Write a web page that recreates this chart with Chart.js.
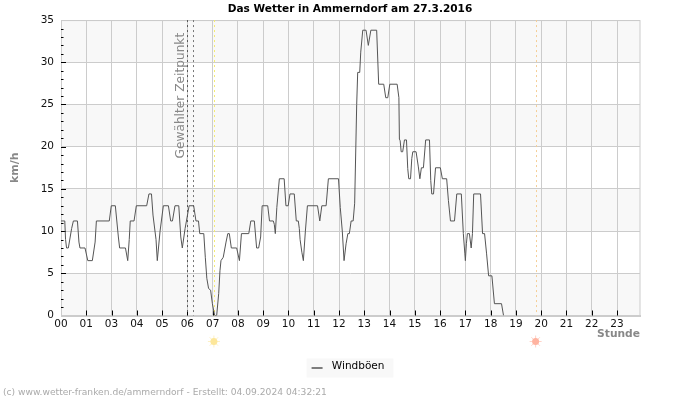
<!DOCTYPE html>
<html>
<head>
<meta charset="utf-8">
<script src="https://cdn.jsdelivr.net/npm/chart.js@4"></script>
<style>
  body { margin: 0; background: #fff; }
</style>
</head>
<body>
<canvas id="wind" width="700" height="400"></canvas>
<script>
// 27.3.2016 is the clock change day, 02 does not exist, so x is elapsed hours
const hourTicks = [0, 1, 2, 3, 4, 5, 6, 7, 8, 9, 10, 11, 12, 13, 14, 15, 16, 17, 18, 19, 20, 21, 22];
const hourLabels = ["00", "01", "03", "04", "05", "06", "07", "08", "09", "10", "11", "12", "13", "14", "15", "16", "17", "18", "19", "20", "21", "22", "23"];

const gustHours = [
  0, 0.15, 0.18, 0.22, 0.29, 0.42, 0.49, 0.65, 0.71, 0.75, 0.95, 1.06, 1.24, 1.35, 1.4, 1.91, 1.99, 2.15, 2.27, 2.32,
  2.55, 2.64, 2.7, 2.74, 2.89, 2.98, 3.39, 3.48, 3.58, 3.64, 3.76, 3.81, 3.92, 4.05, 4.25, 4.34, 4.41, 4.51, 4.66, 4.74,
  4.8, 4.91, 5.07, 5.25, 5.34, 5.44, 5.49, 5.65, 5.71, 5.77, 5.84, 5.92, 5.99, 6.04, 6.08, 6.16, 6.24, 6.29, 6.33, 6.42,
  6.53, 6.6, 6.66, 6.74, 6.95, 7.06, 7.14, 7.43, 7.51, 7.65, 7.74, 7.82, 7.9, 7.96, 8.18, 8.25, 8.4, 8.44, 8.48, 8.54,
  8.64, 8.83, 8.9, 8.99, 9.06, 9.23, 9.31, 9.39, 9.43, 9.46, 9.53, 9.59, 9.67, 9.75, 10.15, 10.24, 10.32, 10.49, 10.58, 10.98,
  11.05, 11.13, 11.2, 11.28, 11.35, 11.41, 11.48, 11.56, 11.62, 11.7, 11.74, 11.82, 11.86, 11.94, 12.07, 12.16, 12.26, 12.49, 12.57, 12.77,
  12.85, 12.93, 13.01, 13.3, 13.37, 13.39, 13.42, 13.46, 13.52, 13.59, 13.67, 13.72, 13.76, 13.83, 13.88, 13.92, 14.05, 14.14, 14.2, 14.26,
  14.34, 14.43, 14.58, 14.63, 14.67, 14.74, 14.82, 15.01, 15.09, 15.26, 15.33, 15.41, 15.57, 15.66, 15.84, 15.92, 15.98, 16, 16.04, 16.08,
  16.16, 16.23, 16.28, 16.33, 16.6, 16.68, 16.76, 16.84, 16.92, 17.05, 17.15, 17.43, 17.51
];
const gustValues = [
  11.2, 11.2, 9, 8, 8, 10.3, 11.2, 11.2, 8.7, 8, 8, 6.5, 6.5, 8.7, 11.2, 11.2, 13, 13, 9.3, 8,
  8, 6.5, 9, 11.2, 11.2, 13, 13, 14.4, 14.4, 11.9, 9, 6.5, 10, 13, 13, 11.2, 11.2, 13, 13, 9.3,
  8, 10.3, 13, 13, 11.2, 11.2, 9.7, 9.7, 6.9, 4.4, 3.2, 3, 1.4, 0.6, 0, 0, 2.6, 5.3, 6.5, 6.9,
  8.7, 9.7, 9.7, 8, 8, 6.5, 9.7, 9.7, 11.2, 11.2, 8, 8, 9.3, 13, 13, 11.2, 11.2, 10.8, 9.7, 12.8,
  16.2, 16.2, 13, 13, 14.4, 14.4, 11.2, 11.2, 10.3, 9, 7.5, 6.5, 10, 13, 13, 11.2, 13, 13, 16.2, 16.2,
  12.8, 10, 6.5, 8.5, 9.7, 9.7, 11.2, 11.2, 13.3, 25, 28.8, 28.8, 31.2, 33.8, 33.8, 32, 33.8, 33.8, 27.4, 27.4,
  25.8, 25.8, 27.4, 27.4, 25.8, 20.9, 20.7, 19.4, 19.4, 20.8, 20.8, 17.4, 16.2, 16.2, 18.6, 19.4, 19.4, 17.6, 16.2, 17.5,
  17.5, 20.8, 20.8, 16, 14.4, 14.4, 17.5, 17.5, 16.2, 16.2, 13.6, 11.2, 11.2, 14.4, 14.4, 9.7, 7.3, 6.5, 8.5, 9.7,
  9.7, 8, 9.7, 14.4, 14.4, 9.7, 9.7, 7.3, 4.7, 4.7, 1.4, 1.4, 0
];

const stripeBands = [[30, 35], [20, 25], [10, 15], [0, 5]];
const selectedHours = [5, 5.24];
const sunriseHour = 6.05;
const sunsetHour = 18.78;

const gridColor = "#cccccc";
const lineColor = "#555555";
const fontName = "'DejaVu Sans'";

const chartDecor = {
  id: "chartDecor",
  beforeDraw(chart) {
    const ctx = chart.ctx;
    const area = chart.chartArea;
    const y = chart.scales.y;
    ctx.save();
    ctx.fillStyle = "#f8f8f8";
    stripeBands.forEach((band) => {
      const top = y.getPixelForValue(band[1]);
      const bottom = y.getPixelForValue(band[0]);
      ctx.fillRect(area.left, top, area.right - area.left, bottom - top);
    });
    // legend background, the legend label sits high inside its own box
    const hit = chart.legend.legendHitBoxes[0];
    ctx.fillRect(hit.left - 9, chart.legend.top - 2, hit.width + 18, 19);
    ctx.restore();
  },
  beforeDatasetsDraw(chart) {
    const ctx = chart.ctx;
    const area = chart.chartArea;
    const x = chart.scales.x;
    const y = chart.scales.y;
    ctx.save();
    ctx.lineWidth = 1;

    ctx.strokeStyle = gridColor;
    ctx.strokeRect(area.left + 0.5, area.top + 0.5, area.right - area.left - 0.5, area.bottom - area.top);
    ctx.lineWidth = 2;
    ctx.beginPath();
    ctx.moveTo(area.left, area.bottom + 0.5);
    ctx.lineTo(area.right + 1, area.bottom + 0.5);
    ctx.stroke();
    ctx.lineWidth = 1;

    // inner axis ticks
    ctx.strokeStyle = "#000";
    x.ticks.forEach((tick) => {
      if (tick.value === 0) return;
      const px = Math.round(x.getPixelForValue(tick.value)) + 0.5;
      ctx.beginPath();
      ctx.moveTo(px, area.bottom);
      ctx.lineTo(px, area.bottom - 5);
      ctx.stroke();
    });
    y.ticks.forEach((tick) => {
      if (tick.value === 0 || tick.value === 35) return;
      const py = Math.round(y.getPixelForValue(tick.value)) + 0.5;
      ctx.beginPath();
      ctx.moveTo(area.left, py);
      ctx.lineTo(area.left + (tick.value % 5 === 0 ? 5 : 2.5), py);
      ctx.stroke();
    });

    drawMarker(ctx, area, x.getPixelForValue(selectedHours[0]), "#555555", [2, 3]);
    drawMarker(ctx, area, x.getPixelForValue(selectedHours[1]), "#777777", [2, 3]);
    drawMarker(ctx, area, x.getPixelForValue(sunriseHour), "#f5ec70", [2, 3]);
    drawMarker(ctx, area, x.getPixelForValue(sunsetHour), "#f5cf98", [2, 3]);

    ctx.fillStyle = "#888888";
    ctx.font = "12.2px " + fontName;
    ctx.textAlign = "left";
    ctx.textBaseline = "middle";
    ctx.translate(x.getPixelForValue(selectedHours[0]) - 7, y.getPixelForValue(18.6));
    ctx.rotate(-Math.PI / 2);
    ctx.fillText("Gewählter Zeitpunkt", 0, 0);
    ctx.restore();
  },
  afterDraw(chart) {
    const ctx = chart.ctx;
    const x = chart.scales.x;
    const sunY = chart.chartArea.bottom + 26;
    drawSun(ctx, x.getPixelForValue(sunriseHour), sunY, "#fde79a", "#fdf0c4");
    drawSun(ctx, x.getPixelForValue(sunsetHour), sunY, "#ffb3a0", "#ffd3c8");

    // legend line
    const hit = chart.legend.legendHitBoxes[0];
    const legendMid = chart.legend.top + 7.5;
    ctx.save();
    ctx.strokeStyle = lineColor;
    ctx.lineWidth = 1.5;
    ctx.beginPath();
    ctx.moveTo(hit.left - 4, legendMid);
    ctx.lineTo(hit.left + 7, legendMid);
    ctx.stroke();

    ctx.fillStyle = "#aaaaaa";
    ctx.font = "9.15px " + fontName;
    ctx.textAlign = "left";
    ctx.textBaseline = "middle";
    ctx.fillText("(c) www.wetter-franken.de/ammerndorf - Erstellt: 04.09.2024 04:32:21", 3, 393);
    ctx.restore();
  },
};

function drawMarker(ctx, area, px, color, dash) {
  ctx.save();
  ctx.strokeStyle = color;
  ctx.setLineDash(dash);
  ctx.beginPath();
  ctx.moveTo(Math.round(px) + 0.5, area.top);
  ctx.lineTo(Math.round(px) + 0.5, area.bottom);
  ctx.stroke();
  ctx.restore();
}

function drawSun(ctx, px, py, core, rays) {
  ctx.save();
  ctx.strokeStyle = rays;
  ctx.lineWidth = 1;
  for (let i = 0; i < 8; i++) {
    const angle = (i * Math.PI) / 4;
    ctx.beginPath();
    ctx.moveTo(px + Math.cos(angle) * 3, py + Math.sin(angle) * 3);
    ctx.lineTo(px + Math.cos(angle) * 6, py + Math.sin(angle) * 6);
    ctx.stroke();
  }
  ctx.fillStyle = core;
  ctx.beginPath();
  ctx.arc(px, py, 3.5, 0, Math.PI * 2);
  ctx.fill();
  ctx.restore();
}

const points = gustHours.map((hour, i) => ({ x: hour, y: gustValues[i] }));

new Chart(document.getElementById("wind"), {
  type: "line",
  data: {
    datasets: [
      {
        label: "Windböen",
        data: points,
        borderColor: lineColor,
        borderWidth: 1,
        pointRadius: 0,
        tension: 0,
      },
    ],
  },
  options: {
    responsive: false,
    animation: false,
    events: [],
    layout: { padding: { bottom: 18 } },
    font: { family: fontName },
    plugins: {
      tooltip: { enabled: false },
      title: {
        display: true,
        text: "Das Wetter in Ammerndorf am 27.3.2016",
        color: "#000",
        font: { family: fontName, size: 10.55, weight: "bold" },
        padding: { top: 2.5, bottom: 4.9 },
      },
      legend: {
        position: "bottom",
        labels: {
          boxWidth: 11,
          boxHeight: 2,
          padding: 1,
          color: "#222",
          font: { family: fontName, size: 10.5 },
          generateLabels() {
            return [{ text: "Windböen", fillStyle: "transparent", strokeStyle: "transparent", lineWidth: 0 }];
          },
        },
      },
    },
    scales: {
      x: {
        type: "linear",
        min: 0,
        max: 22.91,
        afterBuildTicks(scale) {
          scale.ticks = hourTicks.map((hour) => ({ value: hour }));
        },
        afterFit(scale) {
          scale.height = 45;
        },
        ticks: {
          autoSkip: false,
          maxRotation: 0,
          padding: 2,
          color: "#111",
          font: { family: fontName, size: 10.5 },
          callback: (value) => hourLabels[hourTicks.indexOf(value)],
        },
        grid: { color: gridColor, drawTicks: false },
        border: { display: false },
        title: {
          display: true,
          text: "Stunde",
          align: "end",
          color: "#888888",
          font: { family: fontName, size: 10.7, weight: "bold" },
          padding: { top: 0, bottom: 19.5 },
        },
      },
      y: {
        min: 0,
        max: 35,
        afterFit(scale) {
          scale.width = 61;
        },
        ticks: {
          stepSize: 1,
          autoSkip: false,
          padding: 7,
          color: "#111",
          font: { family: fontName, size: 10.5 },
          callback: (value) => (value % 5 === 0 ? String(value) : ""),
        },
        grid: {
          drawTicks: false,
          color: (context) => (context.tick.value % 5 === 0 ? gridColor : "transparent"),
        },
        border: { display: false },
        title: {
          display: true,
          text: "km/h",
          color: "#888888",
          font: { family: fontName, size: 11, weight: "bold" },
          padding: { top: 9, bottom: 0 },
        },
      },
      // empty right margin so title and legend stay centred on the full page
      rightMargin: {
        position: "right",
        afterFit(scale) {
          scale.width = 60;
        },
        ticks: { display: false },
        grid: { display: false },
        border: { display: false },
      },
    },
  },
  plugins: [chartDecor],
});
</script>
</body>
</html>
